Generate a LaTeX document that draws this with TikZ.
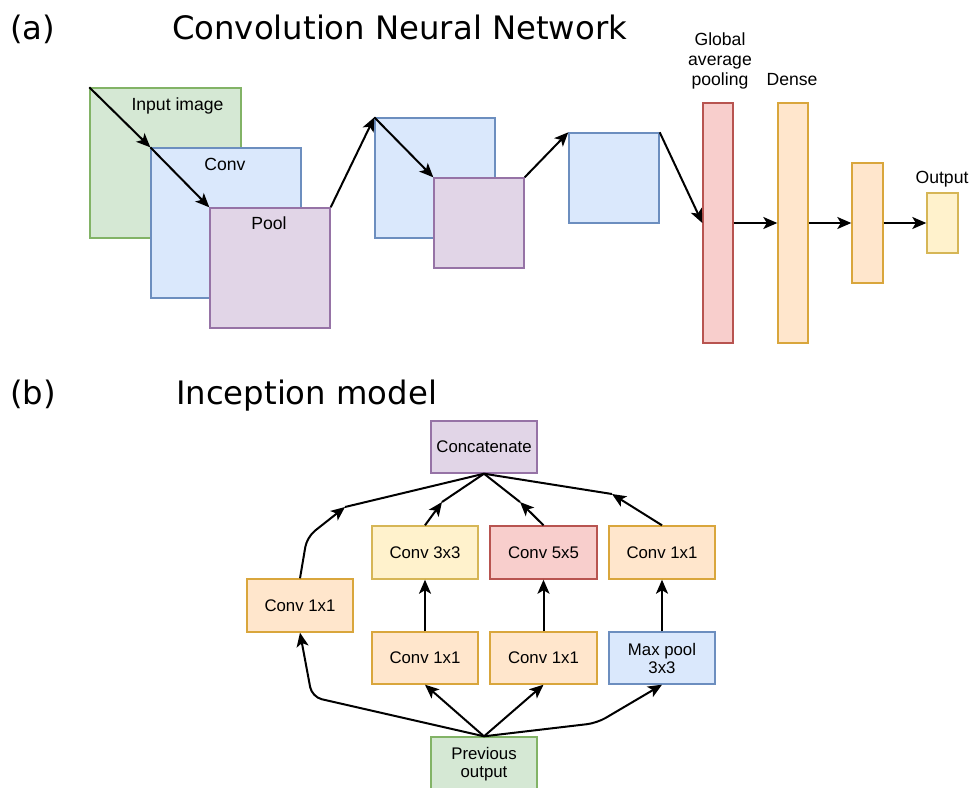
\documentclass[tikz,border=0pt]{standalone}
\usepackage{fontspec}
\setmainfont{Liberation Sans}
\newfontfamily\titlefont{DejaVu Sans}
\usetikzlibrary{arrows.meta}
\definecolor{gfill}{HTML}{D5E8D4}\definecolor{gline}{HTML}{82B366}
\definecolor{bfill}{HTML}{DAE8FC}\definecolor{bline}{HTML}{6C8EBF}
\definecolor{pfill}{HTML}{E1D5E7}\definecolor{pline}{HTML}{9673A6}
\definecolor{rfill}{HTML}{F8CECC}\definecolor{rline}{HTML}{B85450}
\definecolor{ofill}{HTML}{FFE6CC}\definecolor{oline}{HTML}{D9A63C}
\definecolor{yfill}{HTML}{FFF2CC}\definecolor{yline}{HTML}{D6B656}
\tikzset{
  box/.style={rectangle, draw, line width=1.4pt, inner sep=0pt},
  gbox/.style={box, fill=gfill, draw=gline},
  bbox/.style={box, fill=bfill, draw=bline},
  pbox/.style={box, fill=pfill, draw=pline},
  rbox/.style={box, fill=rfill, draw=rline},
  obox/.style={box, fill=ofill, draw=oline},
  ybox/.style={box, fill=yfill, draw=yline},
  arr/.style={line width=2pt, -{Stealth[length=14pt,width=12pt,inset=3.5pt]}},
  ln/.style={line width=2pt},
  lab/.style={font=\fontsize{17.6}{20}\selectfont, anchor=base, inner sep=0pt},
  blab/.style={font=\fontsize{16.8}{20}\selectfont, align=center},
  ttl/.style={font=\titlefont\fontsize{32.3}{36}\selectfont, anchor=base west, inner sep=0pt},
}
\begin{document}
\begin{tikzpicture}[x=1pt,y=-1pt]
\useasboundingbox (0,0) rectangle (971,787);
\clip (0,0) rectangle (971,787);
\fill[white] (0,0) rectangle (971,787);

% titles
\node[ttl] (ta) at (10,39) {(a)};
\node[ttl] (tat) at (172,39) {Convolution Neural Network};
\node[ttl] (tb) at (10,404) {(b)};
\node[ttl] (tbt) at (176,404) {Inception model};

% (a) CNN
\node[gbox, minimum width=151pt, minimum height=150pt] (inp) at (165.5,163) {};
\node[bbox, minimum width=150pt, minimum height=150pt] (conv) at (226,223) {};
\node[pbox, minimum width=120pt, minimum height=120pt] (pool) at (270,268) {};
\node[bbox, minimum width=120pt, minimum height=120pt] (conv2) at (435,178) {};
\node[pbox, minimum width=90pt, minimum height=90pt] (pool2) at (479,223) {};
\node[bbox, minimum width=90pt, minimum height=90pt] (conv3) at (614,178) {};
\node[rbox, minimum width=30pt, minimum height=240pt] (gap) at (718,223) {};
\node[obox, minimum width=30pt, minimum height=240pt] (dense) at (793,223) {};
\node[obox, minimum width=31pt, minimum height=120pt] (dense2) at (867.5,223) {};
\node[ybox, minimum width=31pt, minimum height=60pt] (out) at (942.5,223) {};

\node[lab] (linp) at (177.5,110) {Input image};
\node[lab] (lconv) at (225,170) {Conv};
\node[lab] (lpool) at (269,229) {Pool};
\node[lab] (lgap1) at (720,45) {Global};
\node[lab] (lgap2) at (720,65) {average};
\node[lab] (lgap3) at (720,85) {pooling};
\node[lab] (ldense) at (792,85) {Dense};
\node[lab] (lout) at (942,183) {Output};

\draw[arr] (inp.north west) -- (conv.north west);
\draw[arr] (conv.north west) -- (pool.north west);
\draw[arr] (pool.north east) -- (conv2.north west);
\draw[arr] (conv2.north west) -- (pool2.north west);
\draw[arr] (pool2.north east) -- (conv3.north west);
\draw[arr] (conv3.north east) -- (gap.west);
\draw[arr] (gap.east) -- (dense.west);
\draw[arr] (dense.east) -- (dense2.west);
\draw[arr] (dense2.east) -- (out.west);

% (b) Inception
\node[pbox, minimum width=106pt, minimum height=52pt, blab] (cc) at (484,447) {Concatenate};
\node[ybox, minimum width=106pt, minimum height=53pt, blab] (c3) at (425,552.5) {Conv 3x3};
\node[rbox, minimum width=107pt, minimum height=53pt, blab] (c5) at (543.5,552.5) {Conv 5x5};
\node[obox, minimum width=106pt, minimum height=53pt, blab] (c1r) at (662,552.5) {Conv 1x1};
\node[obox, minimum width=106pt, minimum height=53pt, blab] (c1l) at (300,605.5) {Conv 1x1};
\node[obox, minimum width=106pt, minimum height=52pt, blab] (c1a) at (425,658) {Conv 1x1};
\node[obox, minimum width=107pt, minimum height=52pt, blab] (c1b) at (543.5,658) {Conv 1x1};
\node[bbox, minimum width=106pt, minimum height=52pt, blab] (mp) at (662,658) {Max pool\\[-2pt]3x3};
\node[gbox, minimum width=106pt, minimum height=52pt] (pv) at (484,763) {};
\node[blab, anchor=north] (pvt) at (484,744) {Previous\\[-2pt]output};

\coordinate (wl) at (345,507);
\coordinate (w3) at (442,502);
\coordinate (w5) at (520,502);
\coordinate (wr) at (612,494);
\coordinate (bl) at (312,697);
\coordinate (br) at (597,723);
\coordinate (kl) at (307,537);

\draw[arr, rounded corners=10pt] (c1l.north) -- (kl) -- (wl);
\draw[ln] (wl) -- (cc.south);
\draw[arr] (c3.north) -- (w3);
\draw[ln] (w3) -- (cc.south);
\draw[arr] (c5.north) -- (w5);
\draw[ln] (w5) -- (cc.south);
\draw[arr] (c1r.north) -- (wr);
\draw[ln] (wr) -- (cc.south);

\draw[arr] (c1a.north) -- (c3.south);
\draw[arr] (c1b.north) -- (c5.south);
\draw[arr] (mp.north) -- (c1r.south);

\draw[arr, rounded corners=10pt] (pv.north) -- (bl) -- (c1l.south);
\draw[arr] (pv.north) -- (c1a.south);
\draw[arr] (pv.north) -- (c1b.south);
\draw[arr, rounded corners=10pt] (pv.north) -- (br) -- (mp.south);
\end{tikzpicture}
\end{document}
